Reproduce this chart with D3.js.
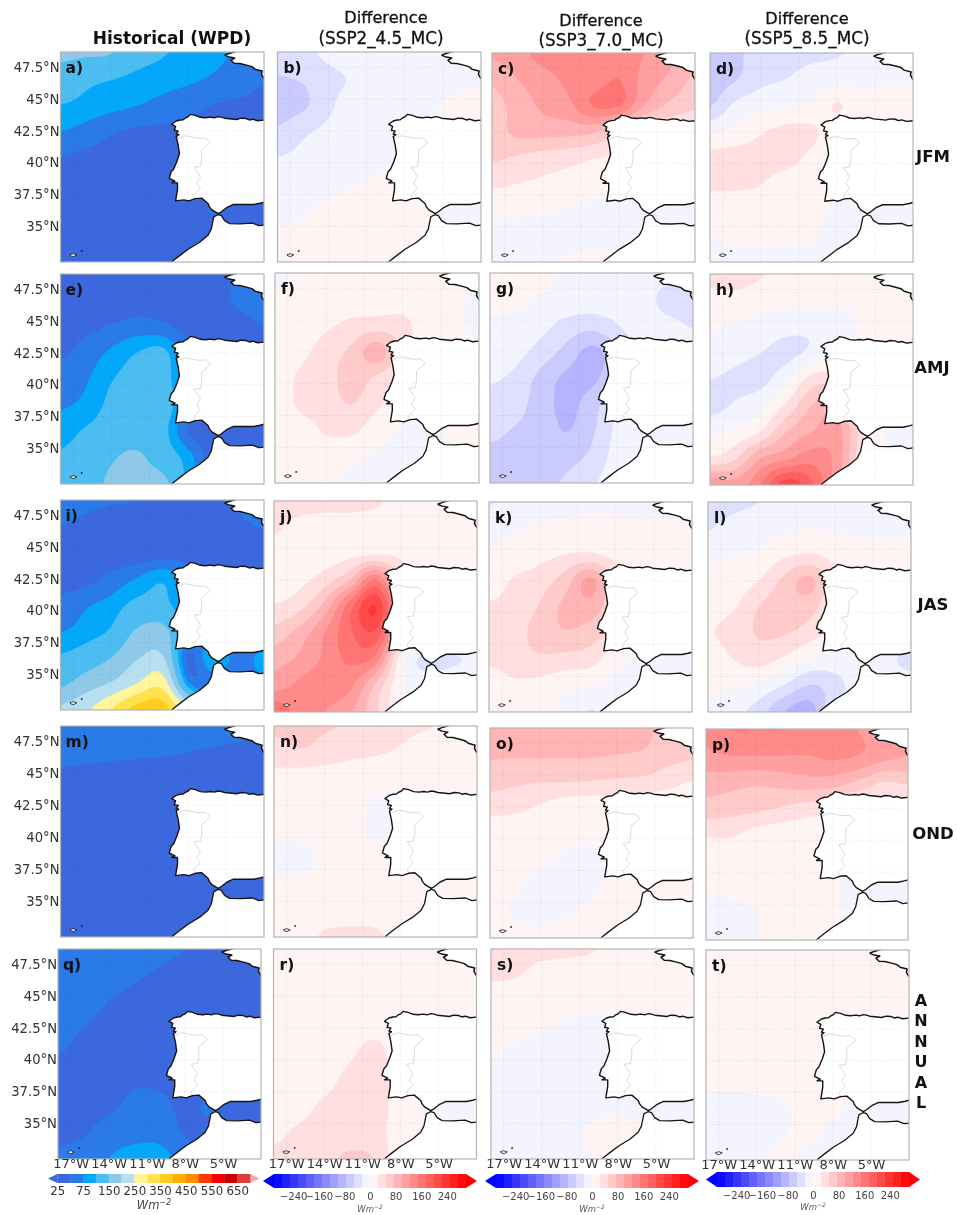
<!DOCTYPE html>
<html><head><meta charset="utf-8">
<script src="https://cdnjs.cloudflare.com/ajax/libs/d3/7.8.5/d3.min.js"></script>
<style>html,body{margin:0;background:#fff}svg{display:block;filter:blur(.35px)}text{font-family:"DejaVu Sans",sans-serif}</style>
</head><body><svg id="c" width="957" height="1215"></svg>
<script>
// ---------- data: gridded fields (9 lat rows north→south, 9 lon columns west→east), W m-2
const lonTicks=[-17,-14,-11,-8,-5];
const latTicks=[47.5,45,42.5,40,37.5,35];
const panelNames=["a)","b)","c)","d)","e)","f)","g)","h)","i)","j)","k)","l)","m)","n)","o)","p)","q)","r)","s)","t)"];
const seasons=["JFM","AMJ","JAS","OND"];
const annualLetters=["A","N","N","U","A","L"];
const histLevels=[25,50,75,100,150,200,250,300,350,400,450,500,550,600,650,700];
const histTickLabels=[25,75,150,250,350,450,550,650];
const histColors=["#3c68de","#2a7ae9","#03a8fb","#4cbdf1","#8fc9e9","#b8dff0","#fff59d","#ffe24d","#ffcd20","#ffb000","#ff8c00","#ff3a00","#f50000","#c80000","#d84040"];
const diffTickLabels=[-240,-160,-80,0,80,160,240];
const histA=[[162,157,152,118,103,92,82,72,65],[125,110,102,92,85,80,72,62,52],[100,92,84,76,68,60,50,47,45],[76,66,54,47,45,42,40,40,40],[50,44,40,38,36,36,36,36,36],[38,36,35,34,33,33,34,36,36],[36,35,34,33,33,33,52,36,36],[35,34,33,33,33,33,33,34,34],[34,33,33,33,33,33,33,33,33]];
const diffB=[[-31,-31,-19,-12,-10,-8,-8,-8,-8],[-52,-47,-32,-22,-10,-8,-7,-5,-3],[-62,-55,-30,-14,-9,-6,-2,3,6],[-47,-30,-20,-12,-8,-5,-1,3,6],[-25,-19,-12,-9,-5,0,3,4,5],[-12,-9,-5,-1,3,5,6,6,6],[-6,-2,3,5,6,6,2,-8,-8],[2,4,6,7,7,6,3,-6,-6],[4,6,7,7,7,6,4,2,2]];
const diffC=[[105,115,135,135,135,135,125,105,90],[80,100,115,130,135,150,115,95,70],[65,85,105,118,152,152,100,70,55],[60,82,84,84,80,52,30,27,22],[54,47,40,35,27,20,10,8,8],[30,25,20,15,8,6,5,5,5],[8,5,2,-1,-4,-7,-12,-8,-8],[-8,-8,-8,-8,-6,-3,-3,2,2],[-8,-6,-2,3,4,5,5,5,5]];
const diffD=[[-75,-56,-40,-35,-31,-27,-20,-8,-6],[-65,-52,-32,-25,-14,-9,-6,-3,-2],[-52,-20,-8,-3,3,27,8,8,8],[-4,6,22,32,30,8,6,6,6],[32,35,34,34,19,6,5,5,5],[30,30,26,12,8,6,5,5,5],[10,8,7,6,5,-2,-14,-4,-4],[0,4,3,2,1,-5,-3,3,5],[-6,-5,-4,-3,-2,2,3,3,3]];
const histE=[[30,30,30,30,30,32,40,52,56],[35,35,36,38,38,38,42,53,60],[40,44,52,60,56,40,38,42,50],[46,60,80,100,108,60,40,40,40],[62,72,98,112,112,70,40,40,40],[72,82,108,118,118,70,40,40,40],[88,104,118,126,112,50,35,40,40],[105,118,145,158,125,88,36,38,38],[115,130,158,168,165,90,50,40,40]];
const diffF=[[-4,2,4,5,5,5,5,4,3],[3,5,6,8,9,8,7,4,-4],[5,8,20,32,38,35,6,3,-4],[6,17,38,55,88,38,8,5,3],[7,30,40,60,45,19,6,5,5],[7,30,38,50,30,8,5,5,5],[6,12,28,30,10,-2,-6,4,4],[5,6,8,5,-3,-6,-6,3,3],[4,5,3,-4,-7,-7,-4,2,2]];
const diffG=[[8,8,5,-3,-6,-8,-10,-14,-8],[6,4,-2,-7,-9,-10,-12,-35,-31],[-3,-7,-17,-34,-42,-27,-10,-17,-27],[-10,-17,-35,-58,-82,-56,-14,-8,-6],[-22,-31,-58,-80,-82,-50,-14,-6,-6],[-32,-41,-62,-82,-62,-27,-10,-6,-6],[-44,-52,-58,-76,-55,-20,-8,-2,-2],[-55,-58,-60,-58,-45,-15,-6,-4,-4],[-52,-55,-55,-47,-30,-10,-5,-3,-3]];
const diffH=[[32,37,27,10,8,7,7,6,6],[17,15,10,7,5,4,4,6,6],[2,-3,-8,-17,-20,-15,3,5,5],[-8,-17,-25,-32,-19,-5,3,5,8],[-25,-30,-32,-8,35,40,5,5,5],[-32,-22,-6,30,75,90,10,5,5],[-8,5,27,75,100,110,37,-5,-5],[27,48,100,120,140,115,30,6,-4],[120,110,150,215,180,110,45,6,6]];
const histI=[[55,54,52,50,40,38,48,54,54],[50,45,38,34,32,32,36,45,52],[33,32,32,34,38,36,30,30,30],[38,42,58,76,95,70,40,30,30],[58,72,85,110,112,70,40,30,30],[74,86,105,155,165,90,50,40,40],[104,122,150,195,205,48,100,62,85],[140,175,205,250,280,85,50,50,70],[210,240,300,370,380,240,50,50,60]];
const diffJ=[[38,38,36,36,30,12,10,10,10],[30,15,10,10,10,10,10,10,10],[10,10,10,17,22,20,10,10,10],[10,18,38,75,150,48,12,10,10],[27,42,85,165,225,95,12,10,10],[60,85,125,170,195,75,10,10,10],[90,105,130,155,140,12,-35,-30,-18],[115,130,140,130,70,5,-8,0,0],[170,140,125,105,55,5,-3,2,2]];
const diffK=[[-27,-15,-8,-6,-4,-4,-4,-4,-3],[-8,-2,3,6,8,6,4,4,3],[3,8,17,25,28,17,8,8,8],[10,28,38,62,106,42,8,8,8],[28,35,52,81,88,50,8,6,6],[31,40,60,72,62,38,6,4,4],[30,38,45,40,35,8,-6,-17,-25],[6,19,15,5,2,-6,-6,-4,-4],[3,3,3,-5,-27,-8,-4,-2,-2]];
const diffL=[[-35,-32,-25,-17,-15,-12,-9,-9,-9],[-27,-15,-8,-5,0,-3,-3,-3,-3],[-3,-1,3,20,27,17,5,5,5],[5,10,25,56,81,31,8,6,6],[15,22,50,62,60,22,5,5,5],[22,37,52,52,37,15,4,4,4],[5,25,35,20,-3,-8,-10,-17,-35],[4,2,-6,-27,-52,-37,-8,-5,-5],[-4,-17,-37,-75,-88,-27,-8,-3,-3]];
const histM=[[65,65,62,60,60,58,56,55,53],[55,55,54,53,52,50,48,46,45],[46,44,42,40,40,38,38,38,38],[36,36,36,36,36,36,36,36,36],[35,35,35,35,35,35,35,35,35],[35,35,35,35,35,35,35,35,35],[35,35,35,35,35,35,38,35,35],[35,35,35,35,35,35,35,35,35],[34,34,34,34,34,34,34,34,34]];
const diffN=[[56,56,52,47,32,30,27,19,10],[37,47,40,32,27,22,10,7,6],[17,10,10,8,7,6,5,5,5],[8,7,7,7,-2,-3,5,5,5],[5,4,5,6,-3,3,5,5,5],[-6,-6,2,5,5,5,5,5,5],[3,4,5,5,5,5,5,4,4],[5,6,7,8,8,7,5,4,4],[6,10,30,35,32,10,5,4,4]];
const diffO=[[88,88,88,88,88,88,85,62,55],[78,78,78,78,78,75,72,60,55],[60,55,52,52,50,47,45,35,25],[35,32,22,12,10,8,8,8,8],[8,8,7,6,5,5,5,5,5],[5,5,3,-3,-6,4,5,5,5],[5,2,-6,-8,-3,4,6,5,5],[4,-2,-6,-1,3,5,6,5,5],[5,5,5,5,5,5,5,5,5]];
const diffP=[[130,150,150,150,140,130,125,110,85],[120,125,125,125,125,130,125,110,100],[88,85,80,85,90,88,72,50,55],[65,60,55,48,38,32,12,10,10],[28,28,15,10,8,6,5,5,5],[5,5,5,5,5,5,5,5,5],[2,4,5,5,5,2,-6,-8,-8],[-6,-6,0,5,5,3,-3,3,3],[-6,-5,0,5,5,5,5,5,5]];
const histQ=[[62,60,58,56,54,50,46,44,44],[60,58,55,52,48,44,42,40,40],[57,54,50,46,42,40,40,40,40],[54,50,46,42,40,40,40,40,40],[50,46,42,40,40,40,40,40,40],[44,42,42,47,46,40,40,40,40],[42,44,46,56,56,45,52,38,38],[44,48,60,66,66,48,42,38,38],[55,62,75,85,85,65,40,38,38]];
const diffR=[[8,8,8,8,8,8,8,8,8],[8,8,8,8,8,8,8,8,8],[9,9,9,9,9,8,8,8,8],[10,10,10,10,15,8,8,8,8],[8,8,10,20,36,8,8,8,8],[8,8,15,33,36,15,8,8,8],[8,15,30,36,36,15,6,-8,-8],[18,30,34,36,36,10,5,2,2],[32,36,42,55,48,8,5,4,4]];
const diffS=[[37,37,35,32,27,8,5,5,5],[30,27,12,8,6,5,5,5,5],[6,5,5,5,5,3,5,5,5],[5,3,1,-2,-6,-5,-4,-3,-3],[1,-3,-6,-6,-6,-6,-5,-5,-5],[-6,-6,-6,-6,-6,-6,-6,-6,-6],[-6,-6,-6,-6,-4,-2,-6,-8,-8],[-6,-6,-6,-3,2,3,3,3,3],[-6,-6,-6,-5,0,4,4,4,4]];
const diffT=[[6,6,6,6,6,6,6,6,6],[6,6,6,6,6,6,6,6,6],[6,6,6,6,6,6,6,6,6],[6,6,6,6,6,6,6,6,6],[5,5,6,6,6,6,6,6,6],[3,4,5,5,5,5,5,5,5],[-6,-6,-5,-2,4,3,-4,-7,-7],[-6,-6,-5,-1,3,-3,-4,-3,-3],[-6,-6,-4,3,-3,-5,-3,4,4]];
// ---------- coastlines, lon/lat
const iberia=[[-2,43.35],[-2.5,43.3],[-2.9,43.42],[-3.15,43.36],[-3.4,43.47],[-3.8,43.5],[-4.15,43.4],[-4.5,43.44],[-5.1,43.5],[-5.35,43.58],[-5.6,43.62],[-5.9,43.53],[-6.2,43.58],[-6.6,43.53],[-7,43.57],[-7.4,43.72],[-7.8,43.8],[-7.95,43.62],[-8.2,43.5],[-8.35,43.38],[-8.6,43.36],[-8.9,43.28],[-9.25,43.02],[-8.95,42.85],[-9.05,42.55],[-8.75,42.48],[-8.9,42.25],[-8.7,42.2],[-8.9,42.05],[-8.75,41.4],[-8.65,40.7],[-8.85,40.1],[-9.1,39.5],[-9.3,39.3],[-9.45,38.78],[-9.2,38.65],[-9.0,38.55],[-9.25,38.42],[-8.8,38.42],[-8.8,37.9],[-8.95,37.0],[-8.3,37.08],[-7.9,37.0],[-7.4,37.18],[-6.9,37.22],[-6.4,36.8],[-6.3,36.55],[-6.1,36.3],[-5.6,36.0],[-5.35,36.15],[-4.9,36.5],[-4.4,36.72],[-3.5,36.72],[-2.8,36.72],[-2.3,36.82],[-2,36.9]];
const morocco=[[-2,35.1],[-2.4,35.05],[-2.9,35.25],[-3.9,35.2],[-4.7,35.22],[-5.1,35.45],[-5.35,35.85],[-5.6,35.93],[-5.95,35.75],[-6.14,34.8],[-6.4,34.3],[-7.06,33.75],[-7.97,33.2],[-8.63,32.7],[-9.15,32.3],[-9.3,32.1],[-2,32.1]];
const brittany=[[-5.1,48.45],[-4.75,48.58],[-4.3,48.72],[-3.6,48.85],[-2,48.85],[-2,46.6],[-2.2,46.95],[-2.15,47.2],[-2.7,47.35],[-2.95,47.55],[-3.3,47.65],[-3.9,47.8],[-4.35,47.82],[-4.6,48.05],[-4.3,48.22],[-4.75,48.3],[-5.1,48.45]];
const madeira=[[-17.25,32.78],[-17,32.85],[-16.72,32.76],[-16.95,32.63],[-17.2,32.68],[-17.25,32.78]];
const isletA=[[-16.38,33.1],[-16.28,33.1],[-16.3,33.02],[-16.38,33.02]];
const border=[[-8.85,41.88],[-8.2,42.12],[-7.2,41.92],[-6.6,41.95],[-6.2,41.6],[-6.9,41.0],[-6.9,40.3],[-7.0,39.7],[-7.5,39.65],[-7.0,38.9],[-7.3,38.4],[-7.0,38.0],[-7.5,37.5],[-7.4,37.2]];
// ---------- layout
const panelFields=[histA,diffB,diffC,diffD,histE,diffF,diffG,diffH,histI,diffJ,diffK,diffL,histM,diffN,diffO,diffP,histQ,diffR,diffS,diffT];
const frames=[[60.5,52,264,262],[277.5,52,481,262],[492,53,695,262],[710,53,913,262],[60.5,274,264,484],[275,273,479,483],[490,273,693,483],[710,274,913,485],[60.5,500,264,710],[274,501,477,712],[489,502,692,712],[708,502,911,712],[60.5,726,264,937],[274,726,477,937],[490,728,693,938],[706,729,908,940],[58,949,261,1159],[273.5,949,476.5,1159],[491,949,694,1159],[706,950,909,1160]];
const svg=d3.select("#c");
const diffLevels=d3.range(-300,301,25);
const bwr=d3.scaleLinear([-300,0,300],["#0000ff","#ffffff","#ff0000"]);
const F=8;
function upsample(g){ // smooth rendering grid for contouring
  const ny=g.length,nx=g[0].length,W=(nx-1)*F+1,H=(ny-1)*F+1,out=new Float64Array(W*H);
  const cr=(a,b,c,d,t)=>.5*((2*b)+(-a+c)*t+(2*a-5*b+4*c-d)*t*t+(-a+3*b-3*c+d)*t*t*t);
  const at=(j,i)=>g[Math.max(0,Math.min(ny-1,j))][Math.max(0,Math.min(nx-1,i))];
  for(let Y=0;Y<H;Y++)for(let X=0;X<W;X++){
    const i=Math.min(nx-2,Math.floor(X/F)),j=Math.min(ny-2,Math.floor(Y/F)),u=X/F-i,v=Y/F-j;
    const r=[-1,0,1,2].map(dj=>cr(at(j+dj,i-1),at(j+dj,i),at(j+dj,i+1),at(j+dj,i+2),u));
    out[Y*W+X]=cr(r[0],r[1],r[2],r[3],v);
  }
  return {values:out,W,H};
}
panelFields.forEach((field,k)=>{
  const [x0,y0,x1,y1]=frames[k],w=x1-x0,h=y1-y0,isHist=k%4===0;
  const g=svg.append("g").attr("transform",`translate(${x0},${y0})`);
  const clipId="clip"+k;
  g.append("clipPath").attr("id",clipId).append("rect").attr("width",w).attr("height",h);
  const x=d3.scaleLinear([-18,-2],[0,w]),y=d3.scaleLinear([32.2,48.7],[h,0]);
  const m=g.append("g").attr("clip-path",`url(#${clipId})`);
  const {values,W,H}=upsample(field);
  const sx=d3.scaleLinear([.5,W-.5],[0,w]),sy=d3.scaleLinear([.5,H-.5],[0,h]);
  const path=d3.geoPath(d3.geoTransform({point(a,b){this.stream.point(sx(a),sy(b));}}));
  const gen=d3.contours().size([W,H]);
  m.append("rect").attr("width",w).attr("height",h).attr("fill",isHist?histColors[0]:"#ffffff");
  const levels=isHist?histLevels:diffLevels;
  levels.forEach((t,i)=>{
    if(i===levels.length-1)return;
    const col=isHist?histColors[i]:bwr(t+12.5);
    const c=gen.contour(values,t);
    if(c.coordinates.length)m.append("path").attr("d",path(c)).attr("fill",col).attr("stroke",col).attr("stroke-width",.3);
  });
  // land
  const ln=d3.line().x(d=>x(d[0])).y(d=>y(d[1]));
  m.append("path").attr("d",ln(iberia)+"Z").attr("fill","#fff");
  m.append("path").attr("d",ln(morocco)+"Z").attr("fill","#fff");
  m.append("path").attr("d",ln(brittany)+"Z").attr("fill","#fff");
  m.append("path").attr("d",ln(madeira)+"Z").attr("fill","#fff");
  // graticule
  const grid=m.append("g").attr("stroke","#e6e6e6").attr("stroke-width",.7).attr("stroke-dasharray","1.5 1.5").style("mix-blend-mode","multiply");
  lonTicks.forEach(v=>grid.append("line").attr("x1",x(v)).attr("x2",x(v)).attr("y2",h));
  latTicks.forEach(v=>grid.append("line").attr("y1",y(v)).attr("y2",y(v)).attr("x2",w));
  m.append("path").attr("d",ln(border)).attr("fill","none").attr("stroke","#d0d0d0").attr("stroke-width",.8);
  // coast
  const cs=m.append("g").attr("fill","none").attr("stroke-linejoin","round").attr("stroke","#141414");
  cs.append("path").attr("d",ln(iberia)).attr("stroke-width",1.4);
  cs.append("path").attr("d",ln(morocco.slice(0,-1))).attr("stroke-width",1.3);
  cs.append("path").attr("d",ln(brittany.slice(5))).attr("stroke-width",1.5);
  cs.append("path").attr("d",ln(brittany.slice(0,4))).attr("stroke-width",1.4);
  cs.append("path").attr("d",ln(madeira)).attr("stroke-width",.8);
  cs.append("path").attr("d",ln(isletA)+"Z").attr("fill","#141414").attr("stroke-width",.5);
  g.append("rect").attr("width",w).attr("height",h).attr("fill","none").attr("stroke","#b4b4b4").attr("stroke-width",1.2);
  g.append("text").attr("x",k%4===0?5:6).attr("y",21).attr("font-size",15.5).attr("font-weight",700).attr("fill","#111").text(panelNames[k]);
  if(k%4===0){
    const ax=d3.axisLeft(y).tickValues(latTicks).tickSize(0).tickPadding(1).tickFormat(d=>d+"°N");
    const a=g.append("g").call(ax);a.select(".domain").remove();
    a.selectAll("text").attr("font-size",13.2).attr("fill","#333").style("font-family",'"DejaVu Sans"');
  }
  if(k>=16){
    const ax=d3.axisBottom(x).tickValues(lonTicks).tickSize(0).tickPadding(0).tickFormat(d=>Math.abs(d)+"°W");
    const a=g.append("g").attr("transform",`translate(0,${h})`).call(ax);a.select(".domain").remove();
    a.selectAll("text").attr("font-size",13).attr("fill","#333").style("font-family",'"DejaVu Sans"');
  }
});
// titles
function title(t,cx,by,size,bold){svg.append("text").attr("x",cx).attr("y",by).attr("text-anchor","middle").attr("font-size",size).attr("font-weight",bold?700:400).attr("fill","#111").attr("stroke","#111").attr("stroke-width",bold?0:.3).text(t);}
title("Historical (WPD)",172,44,17,true);
title("Difference",386,23,16.2);title("(SSP2_4.5_MC)",381,44,16.8);
title("Difference",601,26,16.2);title("(SSP3_7.0_MC)",601,46,16.8);
title("Difference",807,24,16.2);title("(SSP5_8.5_MC)",807,44,16.8);
const seasonPos=[[933,162],[932,373],[933,610],[933,839]];
seasons.forEach((s,i)=>svg.append("text").attr("x",seasonPos[i][0]).attr("y",seasonPos[i][1]).attr("text-anchor","middle").attr("font-size",16.5).attr("font-weight",700).attr("fill","#111").text(s));
annualLetters.forEach((s,i)=>svg.append("text").attr("x",921).attr("y",1006+i*20.4).attr("text-anchor","middle").attr("font-size",16).attr("font-weight",700).attr("fill","#111").text(s));
// colour bars
function wm(cx,by,size,col){const t=svg.append("text").attr("x",cx).attr("y",by).attr("text-anchor","middle").attr("font-size",size).attr("font-style","italic").attr("fill",col);
  t.append("tspan").text("Wm");t.append("tspan").attr("dy",-size*.38).attr("font-size",size*.7).text("−2");}
{ const idx=d3.scaleLinear([0,histColors.length],[57.3,250]);
  const g=svg.append("g");const top=1174,bot=1183;
  g.append("path").attr("d",`M48,${(top+bot)/2}L${idx(0)},${top}V${bot}Z`).attr("fill",histColors[0]);
  g.append("path").attr("d",`M260,${(top+bot)/2}L${idx(15)},${top}V${bot}Z`).attr("fill","#f4a8a8");
  histColors.forEach((c,i)=>{ g.append("rect").attr("x",idx(i)).attr("y",top).attr("width",idx(i+1)-idx(i)+.3).attr("height",bot-top).attr("fill",c);});
  const tickScale=d3.scaleLinear([0,7],[idx(0),idx(14)]);
  const ax=d3.axisBottom(tickScale).tickValues(d3.range(8)).tickSize(0).tickPadding(4).tickFormat(i=>histTickLabels[i]);
  const a=g.append("g").attr("transform",`translate(0,${bot})`).call(ax);a.select(".domain").remove();
  a.selectAll("text").attr("font-size",11.8).attr("fill","#333").style("font-family",'"DejaVu Sans"');
  wm(154,1209,11.5,"#444");
}
[[370,1174,1188,1212],[592,1174,1188,1212],[813,1172,1187,1210]].forEach(([c,top,bot,wy])=>{
  const s=d3.scaleLinear([-300,300],[c-96,c+96]);
  const g=svg.append("g");
  g.append("path").attr("d",`M${c-107},${(top+bot)/2}L${s(-300)},${top}V${bot}Z`).attr("fill","#0000ff");
  g.append("path").attr("d",`M${c+107},${(top+bot)/2}L${s(300)},${top}V${bot}Z`).attr("fill","#ff0000");
  d3.range(-300,300,25).forEach(v=>g.append("rect").attr("x",s(v)).attr("y",top).attr("width",s(v+25)-s(v)+.3).attr("height",bot-top).attr("fill",bwr(v+12.5)));
  const ax=d3.axisBottom(s).tickValues(diffTickLabels).tickSize(0).tickPadding(5).tickFormat(d=>d<0?"−"+(-d):d);
  const a=g.append("g").attr("transform",`translate(0,${bot})`).call(ax);a.select(".domain").remove();
  a.selectAll("text").attr("font-size",10).attr("fill","#444").style("font-family",'"DejaVu Sans"');
  wm(c,wy,8.5,"#555");
});
</script></body></html>
